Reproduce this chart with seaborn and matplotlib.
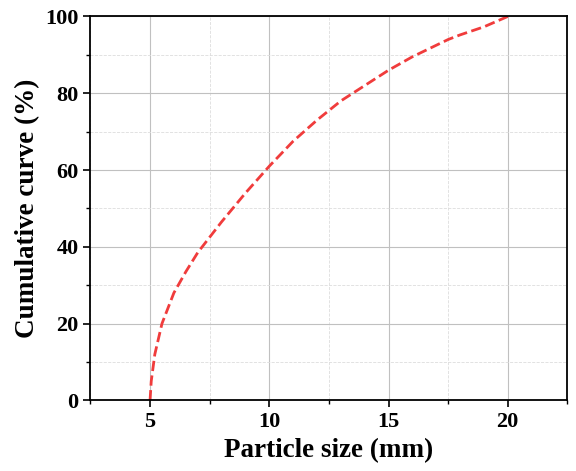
import matplotlib.pyplot as plt
import seaborn as sns
import pandas as pd
from matplotlib.ticker import MultipleLocator

size_mm = [5.0, 5.05, 5.2, 5.5, 6.0, 6.5, 7.0, 8.0, 9.0, 10.0, 11.0, 12.0, 13.0, 14.0, 15.0, 16.0, 17.0, 17.5, 18.0, 19.0, 20.0]
cumulative = [0.0, 5.0, 12.0, 20.0, 28.0, 33.5, 38.5, 46.5, 54.0, 61.0, 67.5, 73.0, 78.0, 82.0, 86.0, 89.5, 92.5, 94.0, 95.2, 97.3, 100.0]

sns.set_theme(style="ticks")
plt.rcParams["font.family"] = ["Liberation Serif", "DejaVu Serif"]
plt.rcParams["font.weight"] = "bold"
plt.rcParams["text.color"] = "black"
plt.rcParams["axes.labelcolor"] = "black"
plt.rcParams["xtick.color"] = "black"
plt.rcParams["ytick.color"] = "black"

df = pd.DataFrame({"size": size_mm, "cum": cumulative})
fig, ax = plt.subplots(figsize=(5.76, 4.71), dpi=100)
sns.lineplot(data=df, x="size", y="cum", ax=ax, color="#f03c3c", linestyle="--", linewidth=2)

ax.set_xlim(2.5, 22.5)
ax.set_ylim(0, 100)
ax.xaxis.set_major_locator(MultipleLocator(5))
ax.xaxis.set_minor_locator(MultipleLocator(2.5))
ax.yaxis.set_major_locator(MultipleLocator(20))
ax.yaxis.set_minor_locator(MultipleLocator(10))
ax.grid(which="major", color="#c0c0c0", linewidth=0.8)
ax.grid(which="minor", color="#dddddd", linestyle="--", linewidth=0.6)
ax.tick_params(which="major", direction="out", length=5, width=1.2, labelsize=16)
ax.tick_params(which="minor", direction="out", length=3, width=1)
for s in ax.spines.values():
    s.set_linewidth(1.3)
    s.set_color("black")
for lab in ax.get_xticklabels() + ax.get_yticklabels():
    lab.set_fontweight("bold")
ax.set_xlabel("Particle size (mm)", fontsize=19.5, fontweight="bold")
ax.set_ylabel("Cumulative curve (%)", fontsize=19.5, fontweight="bold")
fig.subplots_adjust(left=0.157, right=0.985, top=0.965, bottom=0.15)
fig.savefig("out.png")
